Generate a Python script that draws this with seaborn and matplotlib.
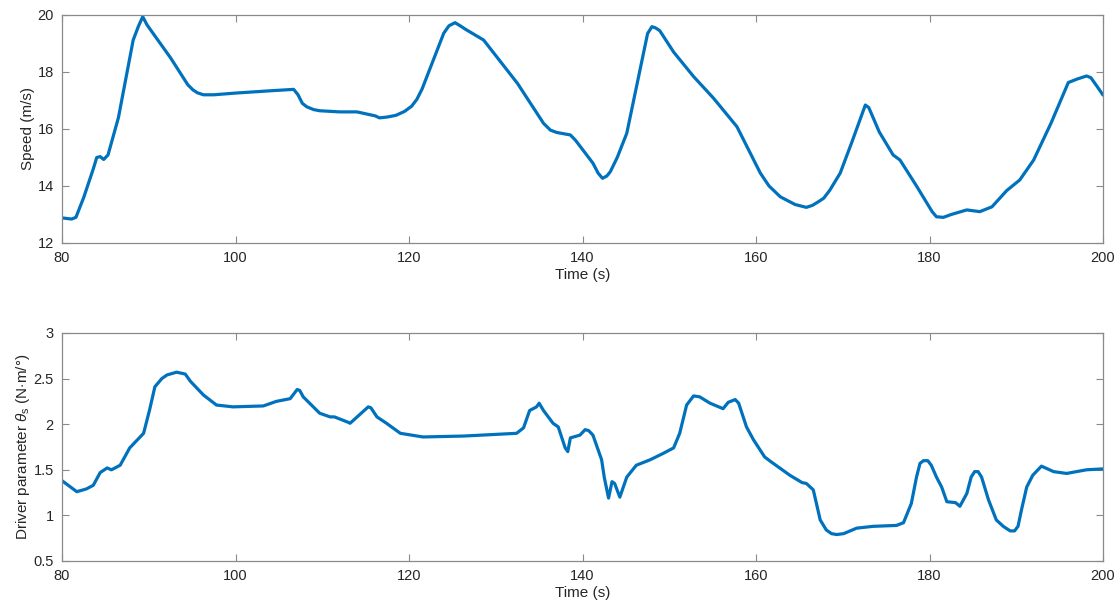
import numpy as np
import pandas as pd
import matplotlib
matplotlib.use("Agg")
import matplotlib.pyplot as plt
import seaborn as sns

# ---- data ----
speed_t = [80.0, 81.1, 81.6, 82.5, 83.6, 84.0, 84.4, 84.8, 85.3, 86.5, 88.2, 88.8, 89.3, 89.8,
           92.5, 94.5, 95.1, 95.6, 96.3, 97.5, 100.0, 104.0, 106.7, 107.2, 107.7, 108.2, 109.0,
           109.7, 112.0, 114.0, 116.1, 116.6, 117.5, 118.5, 119.5, 120.3, 120.9, 121.5, 124.0,
           124.6, 125.3, 125.9, 126.5, 128.6, 132.5, 135.5, 136.3, 137.0, 138.6, 139.2, 141.2,
           141.8, 142.3, 142.8, 143.2, 144.0, 145.1, 147.5, 148.0, 148.4, 148.9, 150.5, 152.8,
           155.1, 157.8, 160.5, 161.5, 162.8, 164.5, 165.8, 166.5, 167.2, 167.8, 168.5, 169.7,
           171.0, 172.6, 173.0, 174.2, 175.8, 176.6, 178.5, 180.3, 180.8, 181.6, 182.5, 184.3,
           185.8, 187.2, 188.9, 190.4, 192.0, 194.0, 196.0, 197.0, 198.1, 198.6, 199.3, 200.0]
speed_v = [12.88, 12.84, 12.9, 13.6, 14.6, 15.0, 15.03, 14.93, 15.09, 16.4, 19.12, 19.6, 19.94,
           19.65, 18.5, 17.55, 17.37, 17.27, 17.2, 17.2, 17.26, 17.34, 17.39, 17.2, 16.9, 16.78,
           16.68, 16.64, 16.6, 16.6, 16.46, 16.39, 16.42, 16.48, 16.62, 16.8, 17.04, 17.4,
           19.36, 19.62, 19.73, 19.62, 19.5, 19.12, 17.6, 16.2, 15.96, 15.88, 15.79, 15.6,
           14.8, 14.45, 14.27, 14.35, 14.5, 15.0, 15.85, 19.35, 19.59, 19.55, 19.45, 18.7,
           17.84, 17.08, 16.08, 14.45, 14.0, 13.62, 13.35, 13.25, 13.32, 13.45, 13.57, 13.85,
           14.45, 15.5, 16.84, 16.75, 15.9, 15.09, 14.91, 14.0, 13.1, 12.92, 12.9, 13.0, 13.16,
           13.1, 13.27, 13.84, 14.21, 14.91, 16.2, 17.63, 17.75, 17.86, 17.8, 17.5, 17.19]

theta_t = [80.0, 81.7, 82.8, 83.6, 84.4, 85.2, 85.7, 86.7, 87.8, 89.4, 90.1, 90.7, 91.5, 92.1,
           93.2, 94.2, 94.8, 96.3, 97.8, 99.7, 103.2, 104.7, 106.3, 107.1, 107.4, 107.8, 109.7,
           110.9, 111.4, 113.0, 113.2, 115.3, 115.6, 116.3, 117.4, 119.0, 121.6, 126.3, 132.4,
           133.2, 133.9, 134.7, 135.0, 135.5, 136.6, 137.2, 138.0, 138.3, 138.6, 139.7, 140.3,
           140.7, 141.2, 142.2, 142.5, 143.0, 143.4, 143.7, 144.3, 145.1, 146.2, 147.8, 149.3,
           150.5, 151.2, 152.0, 152.8, 153.5, 154.7, 156.2, 156.8, 157.6, 158.0, 158.9, 159.7,
           161.0, 161.7, 163.9, 165.3, 165.8, 166.6, 167.4, 168.1, 168.7, 169.3, 170.1, 171.6,
           173.5, 176.2, 177.0, 177.9, 178.5, 178.9, 179.3, 179.8, 180.2, 180.8, 181.4, 182.0,
           183.0, 183.5, 184.3, 184.8, 185.2, 185.6, 186.0, 186.8, 187.7, 188.5, 189.3, 189.8,
           190.2, 190.6, 191.2, 191.9, 192.9, 194.3, 195.8, 198.1, 200.0]
theta_v = [1.38, 1.26, 1.29, 1.33, 1.47, 1.52, 1.50, 1.55, 1.74, 1.90, 2.16, 2.41, 2.50, 2.54,
           2.57, 2.55, 2.47, 2.32, 2.21, 2.19, 2.20, 2.25, 2.28, 2.38, 2.37, 2.30, 2.12,
           2.08, 2.08, 2.02, 2.01, 2.19, 2.18, 2.08, 2.01, 1.90, 1.86, 1.87, 1.90,
           1.96, 2.15, 2.19, 2.23, 2.15, 2.01, 1.97, 1.74, 1.70, 1.85, 1.88, 1.94,
           1.93, 1.88, 1.61, 1.42, 1.19, 1.37, 1.35, 1.20, 1.42, 1.55, 1.61, 1.68,
           1.74, 1.90, 2.21, 2.31, 2.30, 2.23, 2.17, 2.24, 2.27, 2.23, 1.97, 1.83,
           1.64, 1.59, 1.44, 1.36, 1.35, 1.28, 0.95, 0.84, 0.80, 0.79, 0.80, 0.86,
           0.88, 0.89, 0.92, 1.13, 1.42, 1.57, 1.60, 1.60, 1.55, 1.42, 1.31, 1.15,
           1.14, 1.10, 1.24, 1.42, 1.48, 1.48, 1.42, 1.17, 0.95, 0.88, 0.83, 0.83,
           0.88, 1.06, 1.31, 1.44, 1.54, 1.48, 1.46, 1.50, 1.51]

xticks = [80, 100, 120, 140, 160, 180, 200]
speed_yticks = [12, 14, 16, 18, 20]
theta_yticks = [0.5, 1, 1.5, 2, 2.5, 3]
theta_yticklabels = ["0.5", "1", "1.5", "2", "2.5", "3"]

# ---- style ----
sns.set_style("white")
plt.rcParams["font.family"] = ["Liberation Sans", "DejaVu Sans"]
plt.rcParams["mathtext.fontset"] = "custom"
plt.rcParams["mathtext.it"] = "Liberation Sans:italic"
plt.rcParams["mathtext.rm"] = "Liberation Sans"

line_color = "#0072BD"
frame_color = "#8a8a8a"
text_color = "#262626"

fig = plt.figure(figsize=(11.18, 6.04), dpi=100)
ax1 = fig.add_axes([0.0555, 0.5977, 0.9311, 0.3775])
ax2 = fig.add_axes([0.0555, 0.0712, 0.9311, 0.3775])

df1 = pd.DataFrame({"t": speed_t, "v": speed_v})
df2 = pd.DataFrame({"t": theta_t, "v": theta_v})
sns.lineplot(data=df1, x="t", y="v", ax=ax1, color=line_color, linewidth=2.3, sort=False)
sns.lineplot(data=df2, x="t", y="v", ax=ax2, color=line_color, linewidth=2.3, sort=False)

ax1.set_ylim(12, 20)
ax1.set_yticks(speed_yticks)
ax2.set_ylim(0.5, 3)
ax2.set_yticks(theta_yticks)
ax2.set_yticklabels(theta_yticklabels)

for ax in (ax1, ax2):
    ax.set_xlim(80, 200)
    ax.set_xticks(xticks)
    ax.tick_params(direction="in", length=5, width=0.8, colors=frame_color,
                   labelcolor=text_color, labelsize=10.5, top=True, right=True,
                   bottom=True, left=True, pad=6)
    for s in ax.spines.values():
        s.set_color(frame_color)
        s.set_linewidth(0.9)
        s.set_visible(True)
    ax.set_xlabel("Time (s)", fontsize=11, color=text_color, labelpad=2)
    ax.grid(False)

ax1.set_ylabel("Speed (m/s)", fontsize=11, color=text_color, labelpad=2)
ax2.set_ylabel(r"Driver parameter $\theta_{\mathrm{s}}$ (N$\cdot$m/°)", fontsize=11,
               color=text_color, labelpad=1)

fig.savefig("out.png", dpi=100)
